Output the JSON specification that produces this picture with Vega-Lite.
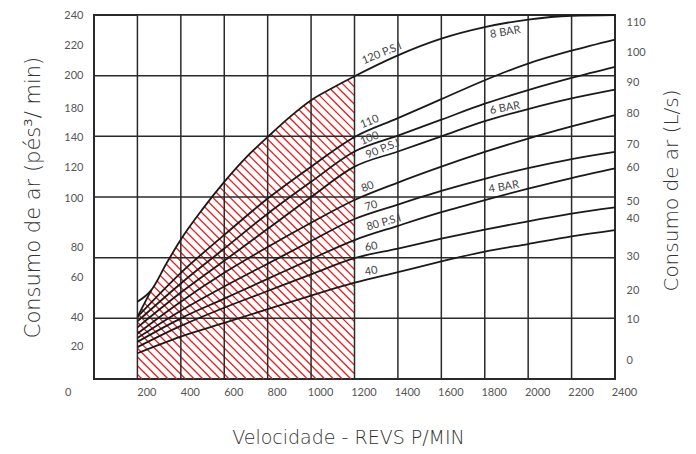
{
  "$schema": "https://vega.github.io/schema/vega-lite/v6.json",
  "width": 521,
  "height": 364,
  "autosize": "none",
  "padding": {"left": 94, "top": 15, "right": 81, "bottom": 75},
  "background": "#ffffff",
  "config": {
    "view": {"stroke": "#2a2a2a", "strokeWidth": 2},
    "font": "Lato",
    "axis": {"grid": false, "ticks": false, "domain": false, "labelFont": "Lato", "titleFont": "DejaVu Sans", "labelFontSize": 11, "labelColor": "#555555", "titleFontSize": 21, "titleFontWeight": 200, "titleColor": "#333333", "labelOverlap": false, "labelFlush": false}
  },
  "datasets": {
    "hatch": [
      {"rpm":200,"cfm":3.04,"rpm2":221.3,"cfm2":0},
      {"rpm":200,"cfm":8.78,"rpm2":261.4,"cfm2":0},
      {"rpm":200,"cfm":14.51,"rpm2":301.5,"cfm2":0},
      {"rpm":200,"cfm":20.24,"rpm2":341.6,"cfm2":0},
      {"rpm":200,"cfm":25.97,"rpm2":381.7,"cfm2":0},
      {"rpm":200,"cfm":31.70,"rpm2":421.8,"cfm2":0},
      {"rpm":200,"cfm":37.43,"rpm2":461.9,"cfm2":0},
      {"rpm":200,"cfm":43.17,"rpm2":502.0,"cfm2":0},
      {"rpm":200,"cfm":48.90,"rpm2":542.1,"cfm2":0},
      {"rpm":200,"cfm":54.63,"rpm2":582.2,"cfm2":0},
      {"rpm":200,"cfm":60.36,"rpm2":622.4,"cfm2":0},
      {"rpm":200,"cfm":66.09,"rpm2":662.5,"cfm2":0},
      {"rpm":200,"cfm":71.82,"rpm2":702.6,"cfm2":0},
      {"rpm":200,"cfm":77.56,"rpm2":742.7,"cfm2":0},
      {"rpm":200,"cfm":83.29,"rpm2":782.8,"cfm2":0},
      {"rpm":200,"cfm":89.02,"rpm2":822.9,"cfm2":0},
      {"rpm":200,"cfm":94.75,"rpm2":863.0,"cfm2":0},
      {"rpm":200,"cfm":100.48,"rpm2":903.1,"cfm2":0},
      {"rpm":200,"cfm":106.21,"rpm2":943.2,"cfm2":0},
      {"rpm":200,"cfm":111.94,"rpm2":983.3,"cfm2":0},
      {"rpm":200,"cfm":117.68,"rpm2":1023.4,"cfm2":0},
      {"rpm":200,"cfm":123.41,"rpm2":1063.5,"cfm2":0},
      {"rpm":200,"cfm":129.14,"rpm2":1103.6,"cfm2":0},
      {"rpm":200,"cfm":134.87,"rpm2":1143.7,"cfm2":0},
      {"rpm":200,"cfm":140.60,"rpm2":1183.8,"cfm2":0},
      {"rpm":200,"cfm":146.33,"rpm2":1200,"cfm2":3.43},
      {"rpm":200,"cfm":152.07,"rpm2":1200,"cfm2":9.16},
      {"rpm":200,"cfm":157.80,"rpm2":1200,"cfm2":14.89},
      {"rpm":200,"cfm":163.53,"rpm2":1200,"cfm2":20.62},
      {"rpm":200,"cfm":169.26,"rpm2":1200,"cfm2":26.35},
      {"rpm":200,"cfm":174.99,"rpm2":1200,"cfm2":32.08},
      {"rpm":200,"cfm":180.72,"rpm2":1200,"cfm2":37.82},
      {"rpm":200,"cfm":186.46,"rpm2":1200,"cfm2":43.55},
      {"rpm":200,"cfm":192.19,"rpm2":1200,"cfm2":49.28},
      {"rpm":200,"cfm":197.92,"rpm2":1200,"cfm2":55.01},
      {"rpm":200,"cfm":203.65,"rpm2":1200,"cfm2":60.74},
      {"rpm":200,"cfm":209.38,"rpm2":1200,"cfm2":66.47},
      {"rpm":200,"cfm":215.11,"rpm2":1200,"cfm2":72.20},
      {"rpm":200,"cfm":220.85,"rpm2":1200,"cfm2":77.94},
      {"rpm":200,"cfm":226.58,"rpm2":1200,"cfm2":83.67},
      {"rpm":200,"cfm":232.31,"rpm2":1200,"cfm2":89.40},
      {"rpm":200,"cfm":238.04,"rpm2":1200,"cfm2":95.13},
      {"rpm":226.4,"cfm":240,"rpm2":1200,"cfm2":100.86},
      {"rpm":266.5,"cfm":240,"rpm2":1200,"cfm2":106.59},
      {"rpm":306.6,"cfm":240,"rpm2":1200,"cfm2":112.33},
      {"rpm":346.7,"cfm":240,"rpm2":1200,"cfm2":118.06},
      {"rpm":386.8,"cfm":240,"rpm2":1200,"cfm2":123.79},
      {"rpm":426.9,"cfm":240,"rpm2":1200,"cfm2":129.52},
      {"rpm":467.0,"cfm":240,"rpm2":1200,"cfm2":135.25},
      {"rpm":507.1,"cfm":240,"rpm2":1200,"cfm2":140.98},
      {"rpm":547.2,"cfm":240,"rpm2":1200,"cfm2":146.71},
      {"rpm":587.3,"cfm":240,"rpm2":1200,"cfm2":152.45},
      {"rpm":627.4,"cfm":240,"rpm2":1200,"cfm2":158.18},
      {"rpm":667.5,"cfm":240,"rpm2":1200,"cfm2":163.91},
      {"rpm":707.6,"cfm":240,"rpm2":1200,"cfm2":169.64},
      {"rpm":747.7,"cfm":240,"rpm2":1200,"cfm2":175.37},
      {"rpm":787.8,"cfm":240,"rpm2":1200,"cfm2":181.11},
      {"rpm":828.0,"cfm":240,"rpm2":1200,"cfm2":186.84},
      {"rpm":868.1,"cfm":240,"rpm2":1200,"cfm2":192.57},
      {"rpm":908.2,"cfm":240,"rpm2":1200,"cfm2":198.30}
    ],
    "cover": [
      {"rpm":200,"cfm":41},{"rpm":264,"cfm":58.6},{"rpm":333,"cfm":76},{"rpm":400,"cfm":92},
      {"rpm":500,"cfm":112},{"rpm":600,"cfm":130},{"rpm":700,"cfm":146},{"rpm":800,"cfm":159.6},
      {"rpm":900,"cfm":172.5},{"rpm":1000,"cfm":183.8},{"rpm":1100,"cfm":192},{"rpm":1200,"cfm":199.6}
    ],
    "gridx": [
      {"rpm":200},{"rpm":400},{"rpm":600},{"rpm":800},{"rpm":1000},{"rpm":1200},
      {"rpm":1400},{"rpm":1600},{"rpm":1800},{"rpm":2000},{"rpm":2200}
    ],
    "gridy": [
      {"cfm":40},{"cfm":80},{"cfm":120},{"cfm":160},{"cfm":200},{"cfm":240}
    ],
    "curves": [
      {"s":"env","rpm":200,"cfm":41},{"s":"env","rpm":264,"cfm":58.6},
      {"s":"120","rpm":200,"cfm":51},{"s":"120","rpm":264,"cfm":58.6},{"s":"120","rpm":333,"cfm":76},{"s":"120","rpm":400,"cfm":92},
      {"s":"120","rpm":500,"cfm":112},{"s":"120","rpm":600,"cfm":130},{"s":"120","rpm":700,"cfm":146},{"s":"120","rpm":800,"cfm":159.6},
      {"s":"120","rpm":900,"cfm":172.5},{"s":"120","rpm":1000,"cfm":183.8},{"s":"120","rpm":1100,"cfm":192},{"s":"120","rpm":1200,"cfm":199.6},
      {"s":"120","rpm":1400,"cfm":213.4},{"s":"120","rpm":1600,"cfm":224.4},{"s":"120","rpm":1800,"cfm":232},{"s":"120","rpm":2000,"cfm":237},
      {"s":"120","rpm":2200,"cfm":239.5},{"s":"120","rpm":2400,"cfm":240},
      {"s":"110","rpm":200,"cfm":41},{"s":"110","rpm":400,"cfm":70},{"s":"110","rpm":600,"cfm":95},{"s":"110","rpm":800,"cfm":119},
      {"s":"110","rpm":1000,"cfm":140},{"s":"110","rpm":1200,"cfm":159.6},{"s":"110","rpm":1400,"cfm":172},{"s":"110","rpm":1600,"cfm":184.5},
      {"s":"110","rpm":1800,"cfm":197},{"s":"110","rpm":2000,"cfm":208},{"s":"110","rpm":2200,"cfm":216.5},{"s":"110","rpm":2400,"cfm":223.8},
      {"s":"100","rpm":200,"cfm":38},{"s":"100","rpm":400,"cfm":63},{"s":"100","rpm":600,"cfm":86},{"s":"100","rpm":800,"cfm":109},
      {"s":"100","rpm":1000,"cfm":130},{"s":"100","rpm":1200,"cfm":150},{"s":"100","rpm":1400,"cfm":160.5},{"s":"100","rpm":1600,"cfm":171},
      {"s":"100","rpm":1800,"cfm":181.5},{"s":"100","rpm":2000,"cfm":190.5},{"s":"100","rpm":2200,"cfm":198.5},{"s":"100","rpm":2400,"cfm":205.8},
      {"s":"90","rpm":200,"cfm":34},{"s":"90","rpm":400,"cfm":57},{"s":"90","rpm":600,"cfm":78},{"s":"90","rpm":800,"cfm":99},
      {"s":"90","rpm":1000,"cfm":120},{"s":"90","rpm":1200,"cfm":140},{"s":"90","rpm":1400,"cfm":150},{"s":"90","rpm":1600,"cfm":160},
      {"s":"90","rpm":1800,"cfm":170},{"s":"90","rpm":2000,"cfm":178},{"s":"90","rpm":2200,"cfm":185},{"s":"90","rpm":2400,"cfm":190.8},
      {"s":"80","rpm":200,"cfm":30},{"s":"80","rpm":400,"cfm":51},{"s":"80","rpm":600,"cfm":70},{"s":"80","rpm":800,"cfm":87},
      {"s":"80","rpm":1000,"cfm":103},{"s":"80","rpm":1200,"cfm":118},{"s":"80","rpm":1400,"cfm":129.5},{"s":"80","rpm":1600,"cfm":140},
      {"s":"80","rpm":1800,"cfm":149.7},{"s":"80","rpm":2000,"cfm":158.5},{"s":"80","rpm":2200,"cfm":166.5},{"s":"80","rpm":2400,"cfm":174},
      {"s":"70","rpm":200,"cfm":27},{"s":"70","rpm":400,"cfm":45},{"s":"70","rpm":600,"cfm":61},{"s":"70","rpm":800,"cfm":76},
      {"s":"70","rpm":1000,"cfm":91},{"s":"70","rpm":1200,"cfm":105.5},{"s":"70","rpm":1400,"cfm":115},{"s":"70","rpm":1600,"cfm":124},
      {"s":"70","rpm":1800,"cfm":132},{"s":"70","rpm":2000,"cfm":139},{"s":"70","rpm":2200,"cfm":145},{"s":"70","rpm":2400,"cfm":149.7},
      {"s":"80psi","rpm":200,"cfm":24.5},{"s":"80psi","rpm":400,"cfm":40},{"s":"80psi","rpm":600,"cfm":53},{"s":"80psi","rpm":800,"cfm":66},
      {"s":"80psi","rpm":1000,"cfm":79},{"s":"80psi","rpm":1200,"cfm":91.6},{"s":"80psi","rpm":1400,"cfm":101},{"s":"80psi","rpm":1600,"cfm":110},
      {"s":"80psi","rpm":1800,"cfm":118},{"s":"80psi","rpm":2000,"cfm":125.5},{"s":"80psi","rpm":2200,"cfm":132.5},{"s":"80psi","rpm":2400,"cfm":138.8},
      {"s":"60","rpm":200,"cfm":21},{"s":"60","rpm":400,"cfm":35},{"s":"60","rpm":600,"cfm":47},{"s":"60","rpm":800,"cfm":58},
      {"s":"60","rpm":1000,"cfm":69},{"s":"60","rpm":1200,"cfm":79.7},{"s":"60","rpm":1400,"cfm":86},{"s":"60","rpm":1600,"cfm":92.5},
      {"s":"60","rpm":1800,"cfm":98.5},{"s":"60","rpm":2000,"cfm":104},{"s":"60","rpm":2200,"cfm":109},{"s":"60","rpm":2400,"cfm":113.1},
      {"s":"40","rpm":200,"cfm":17},{"s":"40","rpm":400,"cfm":28},{"s":"40","rpm":600,"cfm":37},{"s":"40","rpm":800,"cfm":46},
      {"s":"40","rpm":1000,"cfm":55},{"s":"40","rpm":1200,"cfm":63.5},{"s":"40","rpm":1400,"cfm":70.5},{"s":"40","rpm":1600,"cfm":77.5},
      {"s":"40","rpm":1800,"cfm":84},{"s":"40","rpm":2000,"cfm":89},{"s":"40","rpm":2200,"cfm":94},{"s":"40","rpm":2400,"cfm":98.2}
    ],
    "labels": [
      {"t":"120 P.S.I","rpm":1326,"cfm":214.5},
      {"t":"8 BAR","rpm":1895,"cfm":228.5},
      {"t":"110","rpm":1270,"cfm":169.5},
      {"t":"100","rpm":1270,"cfm":158.5},
      {"t":"90 P.S.I","rpm":1330,"cfm":151.5},
      {"t":"80","rpm":1261,"cfm":126.5},
      {"t":"70","rpm":1277,"cfm":114},
      {"t":"80 P.S.I","rpm":1335,"cfm":103},
      {"t":"60","rpm":1277,"cfm":87},
      {"t":"40","rpm":1277,"cfm":71},
      {"t":"6 BAR","rpm":1893,"cfm":178.5},
      {"t":"4 BAR","rpm":1888,"cfm":126.5}
    ]
  },
  "layer": [
    {
      "layer": [
        {
          "data": {"name": "hatch"},
          "mark": {"type": "rule", "color": "#ee1c1c", "strokeWidth": 1.3},
          "encoding": {
            "x": {"field": "rpm", "type": "quantitative", "scale": {"domain": [0, 2400], "nice": false, "zero": false},
              "axis": {"orient": "bottom", "title": "Velocidade - REVS P/MIN", "titleFontSize": 19, "titleX": 254, "values": [0,200,400,600,800,1000,1200,1400,1600,1800,2000,2200,2400], "tickCount": 50, "format": "d",
                "labelExpr": "datum.value == 0 ? '' : datum.label",
                "labelOffset": 9, "labelPadding": 7, "titlePadding": 31}},
            "y": {"field": "cfm", "type": "quantitative", "scale": {"domain": [0, 240], "nice": false, "zero": false},
              "axis": {"orient": "left", "title": "Consumo de ar (pés³/ min)", "tickCount": 50,
                "values": [240,220,200,178.5,159.4,139.7,119.2,87,67.2,40.8,21.1,0],
                "labelExpr": "['240','220','200','180','140','120','100','80','60','40','20','0'][indexof([240,220,200,178.5,159.4,139.7,119.2,87,67.2,40.8,21.1,0], datum.value)]",
                "labelOffset": {"condition": {"test": "datum.value == 0", "value": 13}, "value": 0},
                "labelPadding": {"condition": {"test": "datum.value == 0", "value": 23}, "value": 11},
                "titlePadding": 20}},
            "x2": {"field": "rpm2"},
            "y2": {"field": "cfm2"}
          }
        },
        {
          "data": {"name": "cover"},
          "mark": {"type": "area", "color": "#ffffff", "opacity": 1, "interpolate": "monotone"},
          "encoding": {
            "x": {"field": "rpm", "type": "quantitative"},
            "y": {"field": "cfm", "type": "quantitative"},
            "y2": {"datum": 240}
          }
        },
        {
          "data": {"name": "gridx"},
          "mark": {"type": "rule", "color": "#2a2a2a", "strokeWidth": 1.5},
          "encoding": {"x": {"field": "rpm", "type": "quantitative"}}
        },
        {
          "data": {"name": "gridy"},
          "mark": {"type": "rule", "color": "#2a2a2a", "strokeWidth": 1.5},
          "encoding": {"y": {"field": "cfm", "type": "quantitative"}}
        },
        {
          "data": {"name": "curves"},
          "mark": {"type": "line", "color": "#1a1a1a", "strokeWidth": 1.8, "interpolate": "monotone"},
          "encoding": {
            "x": {"field": "rpm", "type": "quantitative"},
            "y": {"field": "cfm", "type": "quantitative"},
            "detail": {"field": "s", "type": "nominal"}
          }
        },
        {
          "data": {"name": "labels"},
          "transform": [{"filter": {"field": "t", "oneOf": ["120 P.S.I", "110", "100", "80", "90 P.S.I"]}}],
          "mark": {"type": "text", "font": "Lato", "fontSize": 11, "color": "#444444", "angle": -22, "align": "center", "baseline": "middle"},
          "encoding": {
            "x": {"field": "rpm", "type": "quantitative"},
            "y": {"field": "cfm", "type": "quantitative"},
            "text": {"field": "t"}
          }
        },
        {
          "data": {"name": "labels"},
          "transform": [{"filter": {"field": "t", "oneOf": ["80 P.S.I", "70"]}}],
          "mark": {"type": "text", "font": "Lato", "fontSize": 11, "color": "#444444", "angle": -16, "align": "center", "baseline": "middle"},
          "encoding": {
            "x": {"field": "rpm", "type": "quantitative"},
            "y": {"field": "cfm", "type": "quantitative"},
            "text": {"field": "t"}
          }
        },
        {
          "data": {"name": "labels"},
          "transform": [{"filter": {"field": "t", "oneOf": ["8 BAR", "6 BAR", "4 BAR", "60", "40"]}}],
          "mark": {"type": "text", "font": "Lato", "fontSize": 11, "color": "#444444", "angle": -10, "align": "center", "baseline": "middle"},
          "encoding": {
            "x": {"field": "rpm", "type": "quantitative"},
            "y": {"field": "cfm", "type": "quantitative"},
            "text": {"field": "t"}
          }
        }
      ]
    },
    {
      "data": {"name": "gridy"},
      "mark": {"type": "rule", "strokeOpacity": 0},
      "encoding": {
        "y": {"field": "cfm", "type": "quantitative", "scale": {"domain": [0, 240], "nice": false, "zero": false},
          "axis": {"orient": "right", "title": "Consumo de ar (L/s)", "titleAngle": 270, "titleBaseline": "top", "titleFontSize": 20, "titleY": 175, "tickCount": 50,
            "values": [235,215.1,195.3,175.2,154.8,139.7,117.3,106.1,81,58.6,39.2,11.9],
            "labelExpr": "['110','100','90','80','70','60','50','40','30','20','10','0'][indexof([235,215.1,195.3,175.2,154.8,139.7,117.3,106.1,81,58.6,39.2,11.9], datum.value)]",
            "labelPadding": 11, "titlePadding": 16}}
      }
    }
  ],
  "resolve": {"scale": {"y": "independent"}}
}
